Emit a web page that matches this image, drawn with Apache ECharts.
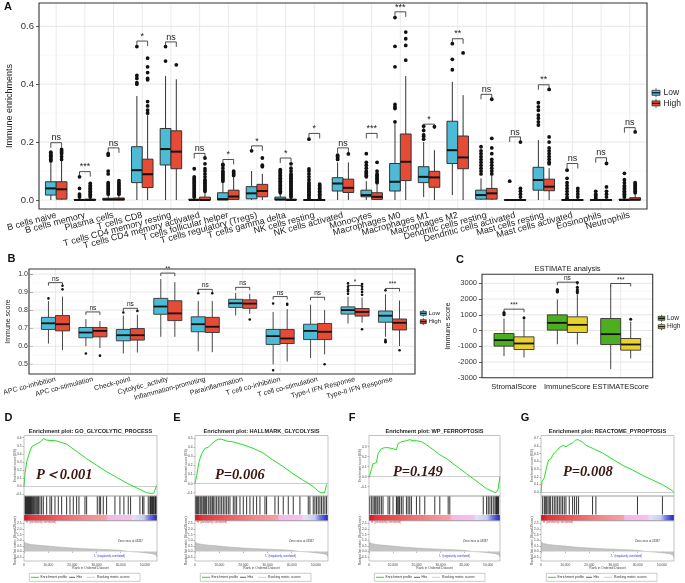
<!DOCTYPE html>
<html><head><meta charset="utf-8">
<script src="https://cdn.jsdelivr.net/npm/echarts@6/dist/echarts.min.js"></script>
<style>html,body{margin:0;padding:0;background:#fff}#c{width:685px;height:583px}</style>
</head><body><div id="c"></div><script>
// ================= DATA =================
// ---- Panel A: CIBERSORT immune enrichments ([min, q1, median, q3, upper whisker]) ----
const catsA = ['B cells naive','B cells memory','Plasma cells','T cells CD8','T cells CD4 memory resting','T cells CD4 memory activated','T cells follicular helper','T cells regulatory (Tregs)','T cells gamma delta','NK cells resting','NK cells activated','Monocytes','Macrophages M0','Macrophages M1','Macrophages M2','Dendritic cells resting','Dendritic cells activated','Mast cells resting','Mast cells activated','Eosinophils','Neutrophils'];
const lowA = [[0,0.017,0.040,0.063,0.13],[0,0,0,0.002,0.005],[0,0,0.002,0.006,0.014],[0,0.06,0.103,0.184,0.359],[0,0.121,0.176,0.247,0.428],[0,0,0,0.003,0.007],[0,0,0.003,0.025,0.062],[0,0.004,0.023,0.046,0.1],[0,0,0.002,0.01,0.022],[0,0,0,0.001,0.002],[0,0.031,0.057,0.077,0.13],[0,0.011,0.017,0.034,0.065],[0,0.031,0.063,0.126,0.265],[0.01,0.06,0.08,0.115,0.2],[0.017,0.126,0.172,0.272,0.408],[0,0.003,0.017,0.034,0.075],[0,0,0,0.001,0.002],[0,0.034,0.069,0.113,0.207],[0,0,0,0.001,0.002],[0,0,0,0.001,0.002],[0,0,0,0.003,0.008]];
const highA = [[0,0.003,0.037,0.063,0.135],[0,0,0,0.003,0.007],[0,0,0.002,0.007,0.016],[0,0.043,0.089,0.141,0.293],[0,0.108,0.167,0.239,0.417],[0,0,0,0.01,0.025],[0,0.002,0.012,0.034,0.08],[0,0.011,0.031,0.054,0.09],[0,0,0,0.003,0.007],[0,0,0,0.001,0.002],[0,0.026,0.042,0.072,0.13],[0,0.002,0.011,0.025,0.055],[0,0.067,0.132,0.228,0.428],[0,0.044,0.078,0.099,0.172],[0,0.108,0.147,0.221,0.362],[0,0.003,0.023,0.04,0.085],[0,0,0,0.001,0.002],[0,0.032,0.046,0.072,0.11],[0,0,0,0.001,0.002],[0,0,0,0.001,0.002],[0,0,0.001,0.008,0.02]];
const lowOutA = [[0.135,0.14,0.145,0.15,0.155,0.16,0.165],[0.01,0.015,0.02,0.04,0.08],[0.02,0.025,0.03,0.035,0.04,0.045,0.05,0.055,0.06,0.09,0.1,0.155,0.16],[0.40,0.405,0.42,0.43,0.53],[0.48,0.53],[0.01,0.015,0.02,0.025,0.03,0.035,0.04,0.045,0.05,0.055,0.06,0.065,0.07,0.075,0.08,0.108],[0.065,0.07,0.075,0.08,0.085,0.09,0.095,0.1,0.11,0.12,0.123],[0.17],[0.025,0.03,0.035,0.04,0.045,0.05,0.055,0.06,0.065,0.07,0.075,0.08,0.085,0.09,0.095,0.1,0.105],[0.005,0.01,0.015,0.02,0.025,0.03,0.035,0.04,0.045,0.05,0.055,0.06,0.07,0.08,0.09,0.1,0.107,0.21],[0.14,0.145,0.15,0.155],[0.08,0.085,0.09,0.095,0.1,0.11,0.12,0.13,0.16],[0.27,0.316,0.322,0.33,0.46,0.531,0.63],[0.21,0.22,0.225,0.24,0.255],[0.45,0.486,0.54],[0.09,0.1,0.11,0.12,0.13,0.14,0.15,0.16,0.17,0.184],[0.065],[0.259,0.27,0.282,0.293,0.31,0.322,0.336],[0.005,0.01,0.02,0.03,0.04,0.05,0.06,0.075,0.103],[0.005,0.01,0.015,0.02,0.03],[0.01,0.015,0.02,0.025,0.03,0.035,0.04,0.045,0.05,0.06,0.07,0.092]];
const highOutA = [[0.14,0.15,0.16,0.165,0.17,0.175],[0.01,0.015,0.02,0.025,0.03,0.035,0.04,0.045,0.05,0.057],[0.02,0.025,0.03,0.035,0.04,0.045,0.05,0.055,0.06,0.067],[0.30,0.31,0.325,0.34,0.415,0.42,0.44,0.46,0.49],[0.467],[0.03,0.035,0.04,0.045,0.05,0.055,0.06,0.065,0.07,0.08,0.09,0.1,0.108,0.125,0.145],[0.085,0.09,0.095,0.1],[0.115,0.12,0.145],[0.01,0.015,0.02,0.025,0.03,0.035,0.04,0.045,0.05,0.055,0.06,0.065,0.07,0.075,0.08,0.085,0.09,0.1,0.11,0.125],[0.005,0.01,0.015,0.02,0.025,0.03,0.035,0.04,0.045,0.05,0.055],[0.159],[0.06,0.065,0.07,0.075,0.08,0.085,0.09,0.1,0.13],[0.483,0.534,0.557,0.58],[0.253],[0.508],[0.09,0.1,0.11,0.12,0.13,0.14,0.16,0.18,0.213,0.348],[0.01,0.02,0.03,0.04,0.2],[0.125,0.13,0.14,0.15,0.16,0.17,0.18,0.2,0.218,0.382],[0.01,0.02,0.03,0.04],[0.01,0.02,0.03,0.045,0.126],[0.025,0.03,0.035,0.04,0.045,0.05,0.055,0.06,0.235]];
const sigA = ['ns','***','ns','*','ns','ns','*','*','*','*','ns','***','***','*','**','ns','ns','**','ns','ns','ns'];
const sigYA = [0.198,0.098,0.18,0.549,0.546,0.161,0.14,0.187,0.145,0.23,0.18,0.23,0.65,0.262,0.557,0.365,0.218,0.398,0.126,0.146,0.25];
const ticksA = [0, 0.2, 0.4, 0.6];
const minorA = [0.1, 0.3, 0.5];

// ---- Panel B: immune function scores ----
const catsB = ['APC co-inhibition','APC co-stimulation','Check-point','Cytolytic_activity','Inflammation-promoting','Parainflammation','T cell co-inhibition','T cell co-stimulation','Type-I IFN Response','Type-II IFN Response'];
const lowB = [[0.615,0.693,0.727,0.76,0.85],[0.6,0.647,0.676,0.704,0.75],[0.56,0.63,0.661,0.693,0.77],[0.652,0.777,0.82,0.865,0.972],[0.572,0.68,0.722,0.763,0.85],[0.77,0.815,0.838,0.86,0.895],[0.5,0.61,0.656,0.693,0.79],[0.535,0.637,0.685,0.722,0.83],[0.726,0.778,0.8,0.818,0.874],[0.652,0.733,0.769,0.795,0.888]];
const highB = [[0.578,0.685,0.722,0.77,0.875],[0.59,0.652,0.685,0.704,0.74],[0.565,0.634,0.661,0.698,0.775],[0.652,0.742,0.782,0.852,0.955],[0.567,0.676,0.708,0.76,0.85],[0.78,0.81,0.836,0.857,0.89],[0.515,0.615,0.643,0.693,0.805],[0.555,0.637,0.68,0.726,0.8],[0.73,0.767,0.79,0.809,0.87],[0.601,0.69,0.73,0.751,0.853]];
const lowOutB = [[0.865],[0.56],[0.787],[],[0.893],[],[0.837,0.467],[],[0.89,0.905,0.915,0.93,0.948],[0.91,0.635,0.628,0.622]];
const highOutB = [[0.915,0.935],[0.548],[0.795],[],[0.893],[0.748],[0.835,0.83],[0.5],[0.885,0.9,0.915,0.93,0.945,0.694],[0.578]];
const sigB = ['ns','ns','ns','**','ns','ns','ns','ns','*','***'];
const sigYB = [0.952,0.79,0.81,1.005,0.915,0.926,0.875,0.871,0.936,0.92];
const ticksB = [0.5, 0.6, 0.7, 0.8, 0.9, 1.0];
const minorB = [0.55, 0.65, 0.75, 0.85, 0.95];

// ---- Panel C: ESTIMATE scores ----
const catsC = ['StromalScore','ImmuneScore','ESTIMATEScore'];
const lowC = [[-1631,-996,-614,-190,763],[-869,21,487,996,1970],[-2458,-890,-233,763,2881]];
const highC = [[-1716,-1208,-826,-403,720],[-890,-127,360,869,2300],[-1780,-1250,-890,-508,550]];
const lowOutC = [[1000,1080,1150],[2450,2500,2560,2600],[]];
const highOutC = [[805],[2400,2500,2600,2750,3050],[720]];
const sigC = ['***','ns','***'];
const sigYC = [1356, 3072, 2987];
const ticksC = [-3000,-2000,-1000,0,1000,2000,3000];
const minorC = [-2500,-1500,-500,500,1500,2500];

// ---- Panels D-G: GSEA running enrichment score [rank, ES] ----
const esD = [[0,0.0],[400,0.15],[1100,0.30],[2200,0.41],[3200,0.49],[5200,0.52],[7300,0.56],[8000,0.59],[9400,0.57],[13500,0.56],[17600,0.52],[21800,0.43],[25900,0.34],[30000,0.26],[34200,0.18],[38300,0.11],[42400,0.04],[46600,-0.02],[50700,-0.08],[52800,-0.09],[53700,-0.085],[54500,-0.02],[54800,0.01]];
const esE = [[0,0.0],[690,0.09],[1650,0.24],[2750,0.33],[4130,0.39],[5510,0.40],[6890,0.44],[8260,0.47],[9640,0.49],[11000,0.49],[13100,0.47],[15800,0.46],[19800,0.43],[24000,0.39],[28100,0.34],[32200,0.26],[36400,0.19],[40500,0.11],[44600,0.04],[48800,-0.03],[50800,-0.08],[52200,-0.1],[53600,-0.1],[54400,-0.01]];
const esF = [[0,-0.01],[980,0.07],[1680,0.13],[2380,0.12],[3090,0.14],[3790,0.23],[4490,0.25],[5190,0.28],[5890,0.30],[6590,0.29],[7290,0.31],[7990,0.29],[8700,0.30],[10100,0.28],[11500,0.27],[12200,0.33],[13600,0.35],[15710,0.36],[17110,0.37],[18510,0.36],[19920,0.36],[22020,0.35],[24120,0.32],[26930,0.27],[29730,0.22],[32540,0.18],[35340,0.13],[38150,0.08],[40950,0.03],[43760,-0.02],[46560,-0.07],[49370,-0.12],[52170,-0.15],[53300,-0.16],[54140,-0.13],[54980,0.0]];
const esG = [[0,0.0],[410,0.14],[960,0.16],[1380,0.19],[2060,0.19],[2340,0.33],[3160,0.42],[3710,0.43],[4260,0.44],[4810,0.48],[5500,0.51],[6190,0.53],[6880,0.55],[7570,0.58],[8250,0.57],[9220,0.61],[10320,0.59],[11690,0.62],[13070,0.64],[14440,0.68],[15540,0.68],[17190,0.65],[18570,0.61],[19950,0.59],[21320,0.57],[22700,0.55],[25450,0.51],[29570,0.43],[33700,0.35],[37830,0.29],[41950,0.22],[46080,0.16],[50210,0.10],[54330,0.02],[55000,0.0]];
// gene-set hit ranks
const hitsD = [410,690,960,1240,1520,1790,2070,2340,2620,2890,3170,3580,3860,4270,4680,5230,5650,6060,6610,7300,7990,9370,10740,11430,12810,14190,15560,17630,19010,20390,21760,22730,25210,25900,30300,31130,31680,32780,34160,37600,39670,41320,43110,44080,47930,49040,49590,51380,52070,52340,52750,53170,53440,53720,54130,54410,54680];
const hitsE = [280,690,1100,1520,2070,2480,2890,3440,3860,4410,4820,5510,6200,6610,7160,7580,8260,8950,9640,10330,11020,11710,12400,13090,13770,14460,15840,16530,17220,18600,19970,21350,22730,24100,25480,26860,28930,29610,33060,34440,36500,38570,40630,43390,46830,47520,48900,49590,50280,50960,51650,52340,53030,53720,54410];
const hitsF = [280,980,1680,2240,2810,3370,3790,4490,5190,5890,7990,8700,10100,11500,11780,12200,12620,12900,13600,14310,15710,16410,17110,17810,19920,21320,23420,27630,29730,33240,33940,47970,49370,50070,50770,51470,52170,52870,53300,53580,53860,54140,54420];
const hitsG = [690,1380,1790,2340,2890,3440,3990,4810,5500,6190,6880,7570,8250,8940,9630,10320,11690,13070,13890,14720,15540,21320,22700,39890,50210];
// ranked list metric (Signal2Noise) [rank, value]
const rankMetric = [[0,0.85],[1000,0.72],[3000,0.62],[6000,0.55],[10000,0.48],[15000,0.38],[20000,0.3],[25000,0.25],[30000,0.2],[35000,0.16],[40000,0.1],[43337,0],[47000,-0.06],[50000,-0.12],[53000,-0.2],[54500,-0.3],[55000,-0.5]];
const gseaTitles = ['Enrichment plot: GO_GLYCOLYTIC_PROCESS','Enrichment plot: HALLMARK_GLYCOLYSIS','Enrichment plot: WP_FERROPTOSIS','Enrichment plot: REACTOME_PYROPTOSIS'];
const gseaP = ['P\uFF1C0.001','P=0.006','P=0.149','P=0.008'];

// ================= BUILD =================
const SANS = 'Liberation Sans, Arial, sans-serif';
const BLUE = '#4DBBD5', RED = '#E64B35', GREEN = '#4DAF1F', YELLOW = '#E9D22E';
const grids = [], xAxes = [], yAxes = [], series = [], graphics = [];

function fmt1(v){ return (Math.round(v*10)/10).toFixed(1); }

function addBoxPanel(c) {
  const n = c.cats.length;
  const band = (c.frame.r - c.frame.l) / (n - 1 + 1.2);
  const gl = c.frame.l + 0.1 * band;
  const gi = grids.length;
  grids.push({left: gl, width: band * n, top: c.yTop, height: c.yBot - c.yTop});
  xAxes.push({type: 'category', gridIndex: gi, data: c.cats, offset: c.frame.b - c.yBot,
    axisLine: {show: false}, axisTick: {alignWithLabel: true, length: 3, lineStyle: {color: '#333', width: 0.8}},
    axisLabel: {interval: 0, rotate: c.rot, fontSize: c.xfs, color: '#1a1a1a', margin: c.xmargin, fontFamily: SANS},
    splitLine: {show: false}});
  yAxes.push({type: 'value', gridIndex: gi, min: c.ymin, max: c.ymax, interval: c.interval, offset: gl - c.frame.l,
    axisLine: {show: false}, axisTick: {show: true, length: 3, lineStyle: {color: '#333', width: 0.8}},
    axisLabel: {formatter: c.fmt, fontSize: c.yfs, color: '#333', margin: 5, fontFamily: SANS},
    splitLine: {show: false}});
  const f = c.frame;
  series.push({type: 'custom', xAxisIndex: gi, yAxisIndex: gi, silent: true, clip: false, z: 1,
    data: c.cats.map((_, i) => [i, c.ymin]),
    renderItem: (p, api) => { const x = api.coord([api.value(0), c.ymin])[0];
      return {type: 'line', shape: {x1: x, y1: f.t, x2: x, y2: f.b}, style: {stroke: '#EBEBEB', lineWidth: 1}}; }});
  [[c.ticks, '#E6E6E6', 1], [c.minor, '#F3F3F3', 0.6]].forEach(([vals, col, w]) => {
    series.push({type: 'custom', xAxisIndex: gi, yAxisIndex: gi, silent: true, clip: false, z: 1,
      data: vals.map(v => [0, v]),
      renderItem: (p, api) => { const y = api.coord([0, api.value(1)])[1];
        return {type: 'line', shape: {x1: f.l, y1: y, x2: f.r, y2: y}, style: {stroke: col, lineWidth: w}}; }});
  });
  [[c.low, -1, c.colors[0], 'Low'], [c.high, 1, c.colors[1], 'High']].forEach(([stats, side, color, name]) => {
    series.push({type: 'custom', name: name, xAxisIndex: gi, yAxisIndex: gi, clip: false, z: 5,
      data: stats.map((s, i) => [i].concat(s)), encode: {x: 0, y: [1, 2, 3, 4, 5]},
      renderItem: (p, api) => {
        const i = api.value(0);
        const bw = api.size([1, 0])[0];
        const hw = bw * 0.1875;
        const cx = api.coord([i, 0])[0] + side * hw;
        const y = k => api.coord([i, api.value(k)])[1];
        const yMin = y(1), yQ1 = y(2), yMed = y(3), yQ3 = y(4), yMax = y(5);
        return {type: 'group', children: [
          {type: 'line', shape: {x1: cx, y1: yMax, x2: cx, y2: yQ3}, style: {stroke: '#333', lineWidth: c.lw}},
          {type: 'line', shape: {x1: cx, y1: yQ1, x2: cx, y2: yMin}, style: {stroke: '#333', lineWidth: c.lw}},
          {type: 'rect', shape: {x: cx - hw, y: yQ3, width: 2 * hw, height: Math.max(yQ1 - yQ3, 0.6)}, style: {fill: color, stroke: '#333', lineWidth: c.lw}},
          {type: 'line', shape: {x1: cx - hw, y1: yMed, x2: cx + hw, y2: yMed}, style: {stroke: '#111', lineWidth: c.lw * 2}}
        ]};
      }});
  });
  [[c.lowOut, -1], [c.highOut, 1]].forEach(([outs, side]) => {
    const pts = [];
    outs.forEach((arr, i) => arr.forEach(v => pts.push([i, v])));
    series.push({type: 'custom', xAxisIndex: gi, yAxisIndex: gi, clip: false, z: 6, data: pts,
      renderItem: (p, api) => {
        const bw = api.size([1, 0])[0];
        const pt = api.coord([api.value(0), api.value(1)]);
        return {type: 'circle', shape: {cx: pt[0] + side * bw * 0.1875, cy: pt[1], r: c.dotR}, style: {fill: '#111'}};
      }});
  });
  series.push({type: 'custom', xAxisIndex: gi, yAxisIndex: gi, clip: false, z: 7,
    data: c.sigY.map((v, i) => [i, v]),
    renderItem: (p, api) => {
      const i = api.value(0);
      const bw = api.size([1, 0])[0];
      const pt = api.coord([i, api.value(1)]);
      const x1 = pt[0] - bw * 0.1875, x2 = pt[0] + bw * 0.1875, yb = pt[1];
      return {type: 'group', children: [
        {type: 'polyline', shape: {points: [[x1, yb + c.tip], [x1, yb], [x2, yb], [x2, yb + c.tip]]}, style: {stroke: '#222', lineWidth: 0.8, fill: 'none'}},
        {type: 'text', style: {text: c.sig[p.dataIndex], x: pt[0], y: yb - 0.3, align: 'center', verticalAlign: 'bottom', fontSize: c.sfs, fill: '#222', fontFamily: SANS}}
      ]};
    }});
  graphics.push({type: 'rect', z: 100, shape: {x: f.l, y: f.t, width: f.r - f.l, height: f.b - f.t}, style: {fill: 'none', stroke: '#333', lineWidth: 1.1}});
}

addBoxPanel({cats: catsA, frame: {l: 39, r: 647, t: 3, b: 209}, yTop: 26.3, yBot: 200, ymin: 0, ymax: 0.6, interval: 0.2,
  fmt: fmt1, rot: 15, xfs: 9, yfs: 9.5, xmargin: 6, low: lowA, high: highA, lowOut: lowOutA, highOut: highOutA,
  colors: [BLUE, RED], lw: 1, dotR: 1.9, sig: sigA, sigY: sigYA, tip: 5, sfs: 9, ticks: ticksA, minor: minorA});
addBoxPanel({cats: catsB, frame: {l: 29, r: 415, t: 269, b: 374}, yTop: 274, yBot: 364.3, ymin: 0.5, ymax: 1.0, interval: 0.1,
  fmt: fmt1, rot: 15, xfs: 7, yfs: 7, xmargin: 5, low: lowB, high: highB, lowOut: lowOutB, highOut: highOutB,
  colors: [BLUE, RED], lw: 0.9, dotR: 1.3, sig: sigB, sigY: sigYB, tip: 3, sfs: 6.5, ticks: ticksB, minor: minorB});
addBoxPanel({cats: catsC, frame: {l: 482, r: 652.7, t: 274.3, b: 377.7}, yTop: 283.3, yBot: 377.7, ymin: -3000, ymax: 3000, interval: 1000,
  fmt: v => String(v), rot: 0, xfs: 7.5, yfs: 7.5, xmargin: 5, low: lowC, high: highC, lowOut: lowOutC, highOut: highOutC,
  colors: [GREEN, YELLOW], lw: 0.9, dotR: 1.5, sig: sigC, sigY: sigYC, tip: 3, sfs: 6.5, ticks: ticksC, minor: minorC});

// ---- GSEA panels ----
const gseaCfg = [
  {L: 24, W: 133, esMin: -0.1, esMax: 0.6, esTop: 437.7, esBot: 494.3, es: esD, hits: hitsD, px: 36, py: 475},
  {L: 195, W: 133, esMin: -0.1, esMax: 0.5, esTop: 438.3, esBot: 492.7, es: esE, hits: hitsE, px: 215, py: 475},
  {L: 369, W: 131, esMin: -0.1, esMax: 0.3, esTop: 446.7, esBot: 486.7, es: esF, hits: hitsF, px: 393, py: 472.7},
  {L: 541, W: 133, esMin: 0, esMax: 0.7, esTop: 438.3, esBot: 492.3, es: esG, hits: hitsG, px: 563, py: 472.7}
];
const TINY = 3.3;
const FR_T = 435.5, HIT_T = 496, BAR_T = 515, BAR_B = 520.7, RK_TOP = 523.5, RK_BOT = 557, RK_FB = 561;
gseaCfg.forEach((g, k) => {
  const XMAX = 55000;
  let gi = grids.length;
  grids.push({left: g.L, width: g.W, top: g.esTop, height: g.esBot - g.esTop});
  xAxes.push({type: 'value', gridIndex: gi, min: 0, max: XMAX, show: false});
  yAxes.push({type: 'value', gridIndex: gi, min: g.esMin, max: g.esMax, interval: 0.1,
    axisLine: {show: false}, axisTick: {show: true, length: 1.5, lineStyle: {color: '#666', width: 0.5}},
    axisLabel: {formatter: fmt1, fontSize: TINY, color: '#444', margin: 2.5, fontFamily: SANS}, splitLine: {show: false}});
  series.push({type: 'line', name: 'Enrichment profile', xAxisIndex: gi, yAxisIndex: gi, data: g.es, symbol: 'none', clip: false, z: 5,
    lineStyle: {color: '#22E022', width: 1},
    markLine: {silent: true, symbol: 'none', label: {show: false}, lineStyle: {color: '#999', width: 0.5, type: 'solid'}, data: [{yAxis: 0}]}});
  gi = grids.length;
  grids.push({left: g.L, width: g.W, top: HIT_T, height: BAR_T - HIT_T - 0.5});
  xAxes.push({type: 'value', gridIndex: gi, min: 0, max: XMAX, show: false});
  yAxes.push({type: 'value', gridIndex: gi, min: 0, max: 1, show: false});
  series.push({type: 'custom', name: 'Hits', xAxisIndex: gi, yAxisIndex: gi, clip: false, z: 5,
    data: g.hits.map(r => [r, 1]),
    renderItem: (p, api) => {
      const x = api.coord([api.value(0), 0])[0];
      const y0 = api.coord([0, 0])[1], y1 = api.coord([0, 1])[1];
      return {type: 'line', shape: {x1: x, y1: y0, x2: x, y2: y1}, style: {stroke: '#000', lineWidth: 0.8}};
    }});
  gi = grids.length;
  grids.push({left: g.L, width: g.W, top: RK_TOP, height: RK_BOT - RK_TOP});
  xAxes.push({type: 'value', gridIndex: gi, min: 0, max: XMAX, interval: 10000, offset: RK_FB - RK_BOT,
    axisLine: {show: false}, axisTick: {show: true, length: 1.5, lineStyle: {color: '#666', width: 0.5}},
    axisLabel: {showMaxLabel: false, fontSize: TINY, color: '#444', margin: 2.2, fontFamily: SANS,
      formatter: v => String(v).replace(/\B(?=(\d{3})+(?!\d))/g, ',')}, splitLine: {show: false}});
  yAxes.push({type: 'value', gridIndex: gi, min: -0.5, max: 2.5, interval: 0.5,
    axisLine: {show: false}, axisTick: {show: true, length: 1.5, lineStyle: {color: '#666', width: 0.5}},
    axisLabel: {formatter: fmt1, fontSize: TINY, color: '#444', margin: 2.5, fontFamily: SANS}, splitLine: {show: false}});
  series.push({type: 'line', name: 'Ranking metric scores', xAxisIndex: gi, yAxisIndex: gi, data: rankMetric, symbol: 'none', z: 4,
    lineStyle: {color: '#A8A8A8', width: 0.5}, areaStyle: {color: '#C4C4C4', opacity: 1}});

  const L = g.L, W = g.W;
  graphics.push({type: 'rect', z: 90, shape: {x: L, y: FR_T, width: W, height: HIT_T - FR_T}, style: {fill: 'none', stroke: '#9A9A9A', lineWidth: 0.6}});
  graphics.push({type: 'rect', z: 90, shape: {x: L, y: HIT_T, width: W, height: BAR_B - HIT_T}, style: {fill: 'none', stroke: '#9A9A9A', lineWidth: 0.6}});
  graphics.push({type: 'rect', z: 90, shape: {x: L, y: BAR_B, width: W, height: RK_FB - BAR_B}, style: {fill: 'none', stroke: '#9A9A9A', lineWidth: 0.6}});
  graphics.push({type: 'rect', z: 80, shape: {x: L, y: BAR_T, width: W, height: BAR_B - BAR_T},
    style: {fill: new echarts.graphic.LinearGradient(0, 0, 1, 0, [
      {offset: 0, color: '#D0101C'}, {offset: 0.05, color: '#E8303A'}, {offset: 0.25, color: '#F05A60'},
      {offset: 0.45, color: '#F3878A'}, {offset: 0.62, color: '#F5A0A8'}, {offset: 0.63, color: '#F4B8E6'},
      {offset: 0.8, color: '#F4C2EC'}, {offset: 0.82, color: '#E4E2F6'}, {offset: 0.9, color: '#C8CCF4'},
      {offset: 0.94, color: '#7078E8'}, {offset: 1, color: '#1E22C8'}])}});
  graphics.push({type: 'text', z: 95, style: {text: gseaTitles[k], x: L + W / 2, y: 431, align: 'center', verticalAlign: 'middle', fontSize: 5.6, fontWeight: 'bold', fill: '#222', fontFamily: SANS}});
  graphics.push({type: 'text', z: 95, rotation: Math.PI / 2, x: L - 8.5, y: (FR_T + HIT_T) / 2, style: {text: 'Enrichment score (ES)', x: 0, y: 0, align: 'center', verticalAlign: 'middle', fontSize: TINY, fill: '#444', fontFamily: SANS}});
  graphics.push({type: 'text', z: 95, rotation: Math.PI / 2, x: L - 8.5, y: (BAR_B + RK_FB) / 2, style: {text: 'Ranked list metric (Signal2Noise)', x: 0, y: 0, align: 'center', verticalAlign: 'middle', fontSize: TINY, fill: '#444', fontFamily: SANS}});
  graphics.push({type: 'text', z: 95, style: {text: 'Rank in Ordered Dataset', x: L + W / 2, y: 568.5, align: 'center', verticalAlign: 'middle', fontSize: TINY, fill: '#444', fontFamily: SANS}});
  graphics.push({type: 'text', z: 95, style: {text: "'H' (positively correlated)", x: L + 1.5, y: 522.2, align: 'left', verticalAlign: 'middle', fontSize: 2.8, fill: '#E03030', fontFamily: SANS}});
  graphics.push({type: 'text', z: 95, style: {text: 'Zero cross at 43337', x: L + 94, y: 541.5, align: 'left', verticalAlign: 'middle', fontSize: 2.8, fill: '#333', fontFamily: SANS}});
  graphics.push({type: 'text', z: 95, style: {text: "'L' (negatively correlated)", x: L + 70, y: 556, align: 'left', verticalAlign: 'middle', fontSize: 2.8, fill: '#3030E0', fontFamily: SANS}});
  graphics.push({type: 'text', z: 96, style: {text: gseaP[k], x: g.px, y: g.py, align: 'left', verticalAlign: 'middle', fontSize: 14.5, fontStyle: 'italic', fontWeight: 'bold', fill: '#3A170F', fontFamily: 'Liberation Serif, Times New Roman, serif'}});
  const ly = 577.3;
  graphics.push({type: 'rect', z: 95, shape: {x: L + 5.3, y: 573.3, width: 110.7, height: 8}, style: {fill: '#fff', stroke: '#999', lineWidth: 0.5}});
  graphics.push({type: 'line', z: 96, shape: {x1: L + 7, y1: ly, x2: L + 15, y2: ly}, style: {stroke: '#22E022', lineWidth: 1}});
  graphics.push({type: 'text', z: 96, style: {text: 'Enrichment profile', x: L + 16.5, y: ly, verticalAlign: 'middle', fontSize: TINY, fill: '#333', fontFamily: SANS}});
  graphics.push({type: 'line', z: 96, shape: {x1: L + 45, y1: ly, x2: L + 51, y2: ly}, style: {stroke: '#222', lineWidth: 0.7}});
  graphics.push({type: 'text', z: 96, style: {text: 'Hits', x: L + 52.5, y: ly, verticalAlign: 'middle', fontSize: TINY, fill: '#333', fontFamily: SANS}});
  graphics.push({type: 'line', z: 96, shape: {x1: L + 63, y1: ly, x2: L + 71, y2: ly}, style: {stroke: '#BBB', lineWidth: 0.7}});
  graphics.push({type: 'text', z: 96, style: {text: 'Ranking metric scores', x: L + 73, y: ly, verticalAlign: 'middle', fontSize: TINY, fill: '#333', fontFamily: SANS}});
});

function txt(t, x, y, o) { graphics.push({type: 'text', z: 110, style: Object.assign({text: t, x: x, y: y, align: 'center', verticalAlign: 'middle', fontFamily: SANS, fill: '#111'}, o)}); }
function vtxt(t, x, y, fs) { graphics.push({type: 'text', z: 110, rotation: Math.PI / 2, x: x, y: y, style: {text: t, x: 0, y: 0, align: 'center', verticalAlign: 'middle', fontFamily: SANS, fill: '#222', fontSize: fs}}); }
[['A', 8, 7], ['B', 11.5, 259], ['C', 460, 260], ['D', 8.5, 418], ['E', 177, 418], ['F', 352, 418], ['G', 525, 418]].forEach(([t, x, y]) => txt(t, x, y, {fontSize: 11, fontWeight: 'bold'}));
vtxt('Immune enrichments', 10, 106, 9);
vtxt('Immune score', 8, 321.5, 7);
vtxt('Immune score', 447.5, 326, 7.5);
txt('ESTIMATE analysis', 567.5, 269.2, {fontSize: 7.5, fill: '#222'});
function legendKey(cx, cy, w, h, color, label, fs, tx) {
  graphics.push({type: 'line', z: 110, shape: {x1: cx, y1: cy - h / 2, x2: cx, y2: cy + h / 2}, style: {stroke: '#333', lineWidth: 0.8}});
  graphics.push({type: 'rect', z: 111, shape: {x: cx - w / 2, y: cy - h * 0.28, width: w, height: h * 0.56}, style: {fill: color, stroke: '#333', lineWidth: 0.8}});
  graphics.push({type: 'line', z: 112, shape: {x1: cx - w / 2, y1: cy, x2: cx + w / 2, y2: cy}, style: {stroke: '#111', lineWidth: 1.2}});
  graphics.push({type: 'text', z: 112, style: {text: label, x: tx, y: cy, align: 'left', verticalAlign: 'middle', fontSize: fs, fill: '#222', fontFamily: SANS}});
}
legendKey(656, 92.8, 8, 9, BLUE, 'Low', 8.5, 663.5);
legendKey(656, 103.4, 8, 9, RED, 'High', 8.5, 663.5);
legendKey(423.3, 313.3, 6, 7, BLUE, 'Low', 6.2, 428.5);
legendKey(423.3, 321.7, 6, 7, RED, 'High', 6.2, 428.5);
legendKey(661.5, 318.3, 6.5, 7, GREEN, 'Low', 6.5, 667);
legendKey(661.5, 326.7, 6.5, 7, YELLOW, 'High', 6.5, 667);

const chart = echarts.init(document.getElementById('c'), null, {renderer: 'canvas'});
chart.setOption({
  animation: false, backgroundColor: '#fff',
  grid: grids, xAxis: xAxes, yAxis: yAxes, series: series, graphic: {elements: graphics}
});
</script></body></html>
